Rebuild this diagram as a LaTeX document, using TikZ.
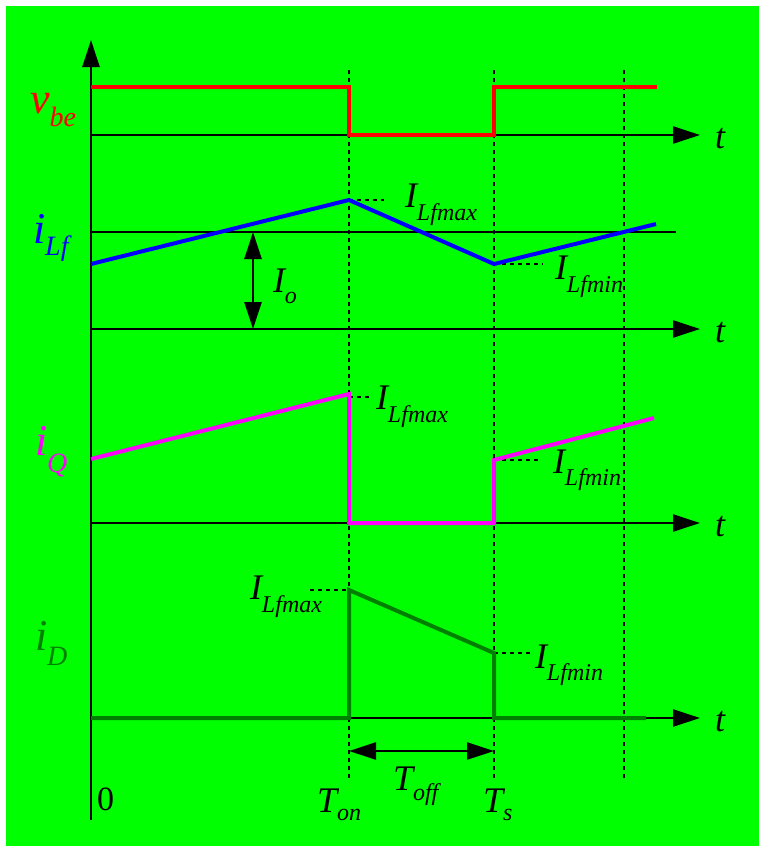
\documentclass[tikz,border=0pt]{standalone}
\usepackage{fontspec}
\setmainfont{Liberation Serif}
\usetikzlibrary{arrows.meta}
\definecolor{bggreen}{RGB}{0,255,0}
\definecolor{dkgreen}{RGB}{0,128,0}
\definecolor{mag}{RGB}{255,0,255}
\newcommand\bigsz{\fontsize{44}{48}\selectfont\itshape}
\newcommand\midsz{\fontsize{36}{40}\selectfont\itshape}
\newcommand\subsz{\fontsize{24}{26}\selectfont\itshape}
\newcommand\sgsub{\fontsize{28}{30}\selectfont\itshape}
\newcommand\lowsub[2]{\raisebox{-#1}{#2}}
\begin{document}
\begin{tikzpicture}[x=1pt,y=-1pt,
  axisline/.style={line width=2.5pt,-{Triangle[length=27pt,width=17pt]}},
  refline/.style={line width=2pt},
  dimarrow/.style={line width=2.5pt,{Triangle[length=27pt,width=17pt]}-{Triangle[length=27pt,width=17pt]}},
  dotline/.style={line width=2.4pt,dash pattern=on 4pt off 4pt},
  sig/.style={line width=4pt,line join=miter},
  lbl/.style={anchor=base west,inner sep=0pt,outer sep=0pt}]
\useasboundingbox (0,0) rectangle (759,846);
\fill[bggreen] (6,6) rectangle (759,846);
% axes
\draw[axisline] (91,820) -- (91,40);
\draw[axisline] (91,135) -- (700,135);
\draw[refline] (91,232) -- (676,232);
\draw[axisline] (91,329) -- (700,329);
\draw[axisline] (91,523) -- (700,523);
\draw[axisline] (91,718) -- (700,718);
% dotted time marks
\draw[dotline] (349,70) -- (349,778);
\draw[dotline] (494,70) -- (494,778);
\draw[dotline] (624,70) -- (624,778);
% short dotted level marks
\draw[dotline] (349,200) -- (384,200);
\draw[dotline] (494,264) -- (543,264);
\draw[dotline] (349,397) -- (370,397);
\draw[dotline] (494,460) -- (540,460);
\draw[dotline] (310,590) -- (349,590);
\draw[dotline] (494,653) -- (530,653);
% dimension arrows
\draw[dimarrow] (253,232) -- (253,329);
\draw[dimarrow] (349,751) -- (494,751);
% signals
\draw[sig,red] (91,87) -- (349,87) -- (349,135) -- (494,135) -- (494,87) -- (657,87);
\draw[sig,blue] (91,264) -- (349,200) -- (494,264) -- (656,224);
\draw[sig,mag] (91,459) -- (349,394) -- (349,523) -- (494,523) -- (494,460) -- (654,418);
\draw[sig,dkgreen] (91,718) -- (349,718) -- (349,590) -- (494,653) -- (494,718) -- (646,718);
% signal names
\node[lbl,red] (vbe) at (30,113) {\bigsz v\lowsub{13pt}{\sgsub be}};
\node[lbl,blue] (iLf) at (33,243) {\bigsz i\lowsub{12pt}{\sgsub Lf}};
\node[lbl,mag] (iQ) at (35,455) {\bigsz i\lowsub{17pt}{\sgsub Q}};
\node[lbl,dkgreen] (iD) at (35,650) {\bigsz i\lowsub{15pt}{\sgsub D}};
% t labels
\node[lbl] (t1) at (715,148) {\midsz t};
\node[lbl] (t2) at (715,342) {\midsz t};
\node[lbl] (t3) at (715,536) {\midsz t};
\node[lbl] (t4) at (715,731) {\midsz t};
% level labels
\node[lbl] (maxA) at (405,207) {\midsz I\lowsub{13pt}{\subsz Lfmax}};
\node[lbl] (minA) at (555,279) {\midsz I\lowsub{13pt}{\subsz Lfmin}};
\node[lbl] (maxB) at (376,409) {\midsz I\lowsub{13pt}{\subsz Lfmax}};
\node[lbl] (minB) at (553,473) {\midsz I\lowsub{12pt}{\subsz Lfmin}};
\node[lbl] (maxC) at (250,599) {\midsz I\lowsub{13pt}{\subsz Lfmax}};
\node[lbl] (minC) at (535,668) {\midsz I\lowsub{12pt}{\subsz Lfmin}};
\node[lbl] (Io) at (273,292) {\midsz I\lowsub{11pt}{\subsz o}};
% time labels
\node[lbl] (zero) at (97,810) {\fontsize{34}{38}\selectfont 0};
\node[lbl] (Ton) at (317,812) {\midsz T\lowsub{8pt}{\subsz on}};
\node[lbl] (Toff) at (393,790) {\midsz T\lowsub{10pt}{\subsz off}};
\node[lbl] (Ts) at (483,812) {\midsz T\lowsub{8pt}{\subsz s}};
\end{tikzpicture}
\end{document}
